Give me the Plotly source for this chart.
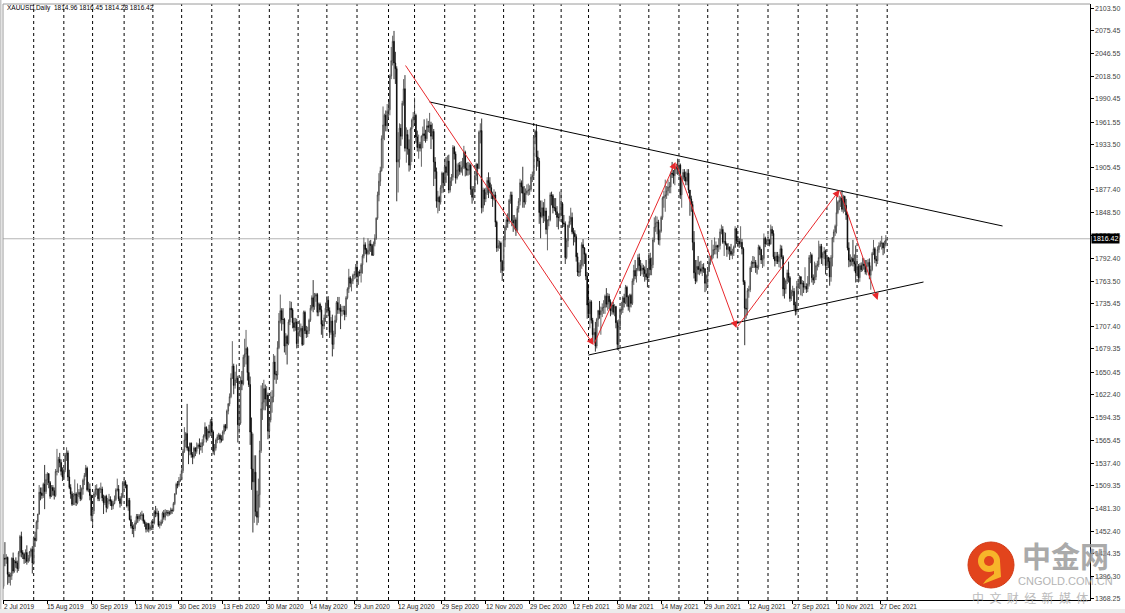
import plotly.graph_objects as go

# ---------------- data (XAUUSD daily) ----------------
opens = [
 1384,1419,1418,1420,1399,1396,1397,1419,1403,1415,1413,1406,1426,1446,1426,1424,1418,1426,1415,1419,1427,1430,
 1413,1444,1441,1464,1474,1501,1500,1497,1511,1502,1517,1524,1513,1496,1507,1503,1497,1527,1527,1542,1538,1527,
 1520,1529,1547,1550,1520,1507,1499,1486,1497,1499,1488,1498,1501,1493,1505,1516,1522,1531,1504,1505,1497,
 1472,1478,1499,1505,1505,1493,1505,1505,1494,1488,1496,1482,1490,1492,1490,1484,1487,1492,1504,1505,1493,1487,1496,
 1513,1514,1510,1484,1491,1467,1459,1456,1456,1463,1471,1468,1472,1472,1473,1465,1462,1455,1462,1455,1458,
 1464,1463,1477,1474,1475,1460,1461,1464,1475,1470,1476,1476,1475,1475,1479,1478,1487,1499,1511,1510,1515,
 1517,1528,1552,1566,1574,1556,1552,1562,1548,1545,1556,1552,1557,1560,1558,1558,1563,1571,1582,1567,1577,1575,
 1589,1576,1552,1556,1566,1570,1572,1567,1566,1576,1584,1581,1602,1611,1620,1643,1658,1634,1641,1643,
 1585,1587,1640,1636,1669,1673,1680,1650,1635,1576,1530,1514,1526,1477,1470,1498,1553,1605,1613,1630,1617,1622,
 1577,1591,1613,1620,1663,1648,1647,1681,1714,1727,1716,1716,1683,1695,1686,1713,1730,1728,1712,1706,1713,
 1686,1700,1702,1705,1685,1725,1702,1698,1702,1715,1730,1743,1732,1745,1747,1725,1735,1728,1710,1708,1718,
 1730,1740,1727,1700,1714,1685,1698,1715,1737,1728,1730,1726,1727,1727,1722,1743,1754,1768,1761,1764,1771,1772,
 1781,1769,1775,1774,1784,1795,1809,1803,1798,1802,1810,1808,1796,1810,1817,1842,1871,1888,1901,1941,1958,1970,1957,
 1975,1977,2019,2038,2062,2035,2028,1912,1915,1954,1944,1985,2003,1929,1946,1928,1908,1953,1964,
 1968,1970,1943,1930,1934,1929,1944,1947,1945,1941,1957,1955,1958,1944,1950,1912,1900,1863,1868,1862,1880,1898,
 1886,1906,1899,1913,1877,1888,1893,1930,1922,1892,1902,1908,1900,1905,1906,1924,1904,1902,1902,1908,1878,1868,
 1879,1895,1909,1904,1949,1951,1855,1877,1866,1874,1889,1886,1880,1872,1866,1871,1837,1805,1808,1811,1788,
 1777,1815,1831,1840,1838,1864,1871,1839,1836,1840,1827,1854,1863,1886,1881,1873,1862,1873,1876,1877,1878,1893,
 1895,1943,1950,1918,1913,1849,1844,1855,1845,1851,1828,1840,1840,1871,1870,1855,1855,1850,1843,1843,
 1848,1860,1836,1835,1793,1814,1833,1838,1843,1825,1823,1819,1794,1775,1775,1784,1809,1805,1797,1770,
 1734,1723,1738,1715,1697,1700,1683,1716,1727,1722,1727,1731,1731,1745,1735,1745,1738,1727,1734,1725,1732,1712,1685,
 1708,1728,1728,1743,1737,1756,1744,1732,1746,1736,1764,1777,1770,1778,1793,1783,1777,1780,1778,1773,1769,
 1768,1792,1778,1784,1815,1831,1836,1837,1815,1826,1843,1867,1869,1871,1876,1881,1881,1898,1897,1895,1903,1906,
 1903,1908,1871,1891,1899,1893,1888,1898,1877,1866,1859,1812,1774,1764,1782,1778,1779,1776,1781,1779,1761,
 1770,1776,1787,1791,1796,1803,1803,1808,1806,1808,1825,1828,1812,1813,1810,1803,1806,1801,1797,1799,1806,1829,
 1814,1813,1810,1812,1804,1763,1730,1729,1752,1753,1780,1787,1786,1787,1781,1781,1806,1803,1790,1792,1817,1810,
 1814,1815,1810,1828,1823,1794,1789,1795,1788,1794,1804,1794,1754,1754,1764,1774,1768,1742,1750,1751,1734,1726,
 1757,1761,1769,1760,1761,1756,1757,1754,1760,1793,1796,1768,1765,1769,1783,1784,1793,1807,1793,1798,1801,
 1783,1793,1788,1769,1793,1818,1825,1832,1849,1862,1864,1867,1853,1869,1858,1846,1805,1790,1788,1792,1788,1785,
 1774,1782,1768,1783,1778,1785,1783,1775,1783,1787,1771,1778,1798,1804,1791,1789,1803,1808,1811,1811,1805,1810,
 1814.96,
]
highs = [
 1424,1439,1424,1421,1402,1401,1420,1426,1417,1420,1416,1428,1448,1452,1429,1426,1430,1435,1423,1428,1432,1434,
 1446,1452,1466,1474,1510,1507,1507,1513,1535,1524,1526,1525,1515,1510,1510,1507,1530,1555,1545,1550,1542,1532,
 1531,1550,1557,1553,1529,1511,1502,1500,1517,1501,1512,1505,1510,1507,1518,1525,1535,1533,1514,1512,1498,
 1482,1502,1510,1511,1506,1507,1513,1508,1498,1497,1498,1494,1499,1496,1492,1490,1497,1506,1518,1510,1496,1500,1515,
 1517,1516,1511,1494,1494,1472,1464,1461,1466,1474,1474,1474,1476,1478,1475,1467,1464,1463,1463,1460,1466,
 1465,1479,1484,1481,1478,1465,1467,1477,1479,1480,1479,1479,1478,1482,1481,1489,1500,1513,1515,1520,1524,
 1531,1555,1582,1576,1611,1558,1563,1563,1551,1558,1557,1563,1562,1568,1563,1567,1573,1588,1583,1580,1585,1592,
 1592,1578,1561,1568,1573,1575,1574,1572,1578,1586,1586,1604,1612,1624,1649,1689,1661,1651,1660,1646,
 1610,1645,1652,1672,1692,1703,1682,1671,1645,1594,1574,1547,1547,1503,1518,1565,1634,1637,1641,1635,1633,1625,
 1594,1626,1628,1673,1671,1652,1689,1724,1747,1730,1730,1718,1699,1697,1716,1739,1738,1730,1718,1718,1717,
 1703,1715,1711,1708,1727,1727,1708,1707,1717,1734,1746,1765,1749,1749,1749,1737,1737,1733,1715,1722,1737,
 1745,1745,1731,1719,1722,1702,1721,1739,1744,1744,1735,1733,1733,1733,1745,1756,1779,1770,1767,1773,1776,1785,
 1789,1776,1778,1786,1797,1818,1812,1805,1817,1814,1815,1810,1813,1822,1843,1875,1898,1906,1945,1981,1972,1976,1984,
 1987,2021,2055,2069,2075,2049,2031,1949,1960,1959,1988,2015,2020,1955,1952,1940,1955,1966,1974,
 1992,1972,1951,1946,1937,1945,1956,1965,1952,1966,1963,1973,1962,1960,1953,1918,1905,1876,1870,1883,1900,1899,
 1916,1918,1920,1921,1893,1897,1933,1932,1925,1910,1911,1912,1913,1917,1932,1926,1911,1912,1911,1910,1882,1882,
 1897,1911,1910,1951,1960,1966,1880,1879,1880,1893,1899,1893,1884,1875,1878,1875,1839,1815,1814,1813,1790,
 1820,1833,1844,1848,1866,1875,1875,1846,1846,1843,1857,1867,1891,1889,1906,1882,1879,1884,1885,1883,1897,1900,
 1945,1952,1959,1926,1917,1864,1864,1862,1866,1855,1840,1845,1874,1875,1872,1867,1867,1857,1848,1875,
 1875,1862,1846,1838,1817,1834,1845,1855,1849,1830,1827,1822,1799,1787,1790,1812,1816,1806,1799,1775,
 1760,1741,1740,1718,1705,1713,1718,1728,1739,1732,1736,1740,1747,1755,1749,1748,1741,1737,1738,1735,1733,1715,1716,
 1731,1738,1745,1748,1759,1758,1746,1748,1748,1767,1784,1790,1780,1797,1798,1790,1786,1784,1782,1790,1780,
 1799,1799,1793,1818,1843,1845,1844,1840,1828,1845,1869,1876,1890,1882,1890,1887,1900,1912,1902,1907,1909,1916,
 1913,1910,1895,1903,1903,1900,1903,1903,1877,1870,1863,1826,1790,1790,1795,1788,1789,1785,1786,1780,1772,
 1778,1795,1795,1815,1809,1818,1813,1809,1817,1829,1834,1832,1825,1824,1811,1811,1807,1810,1804,1808,1832,1830,
 1820,1817,1832,1816,1806,1765,1742,1755,1758,1782,1789,1795,1794,1790,1784,1809,1808,1804,1796,1823,1819,1816,
 1822,1816,1834,1832,1827,1800,1800,1800,1797,1809,1808,1796,1768,1766,1778,1788,1770,1753,1758,1755,1738,1764,
 1763,1771,1770,1765,1764,1781,1761,1770,1796,1800,1798,1772,1788,1786,1789,1814,1810,1810,1800,1806,1803,
 1796,1794,1793,1796,1818,1828,1834,1869,1864,1870,1869,1877,1871,1870,1866,1849,1812,1797,1794,1815,1797,1808,
 1792,1785,1786,1787,1793,1792,1790,1790,1791,1792,1783,1800,1815,1806,1795,1807,1812,1814,1820,1812,1814,1821,
 1816.45,
]
lows = [
 1381,1409,1412,1386,1388,1385,1392,1400,1401,1407,1401,1403,1421,1420,1418,1412,1413,1411,1413,1415,1421,1400,
 1411,1433,1440,1455,1473,1491,1493,1494,1480,1499,1510,1506,1493,1495,1497,1492,1495,1522,1525,1532,1522,1515,
 1518,1526,1540,1515,1505,1493,1484,1485,1485,1484,1486,1495,1490,1491,1498,1510,1520,1502,1501,1491,1465,
 1459,1474,1495,1497,1490,1490,1500,1490,1474,1485,1476,1480,1486,1484,1479,1480,1486,1490,1502,1490,1482,1484,1494,
 1504,1506,1482,1478,1466,1456,1449,1445,1453,1461,1463,1465,1467,1466,1462,1458,1451,1452,1451,1453,1454,
 1454,1461,1470,1471,1458,1456,1459,1462,1467,1466,1472,1471,1472,1473,1474,1477,1485,1498,1506,1508,1514,
 1516,1525,1550,1557,1553,1536,1547,1544,1536,1543,1546,1549,1555,1548,1553,1550,1559,1569,1563,1565,1569,1571,
 1572,1548,1547,1553,1562,1566,1562,1563,1565,1573,1577,1579,1598,1608,1618,1642,1623,1630,1637,1563,
 1574,1585,1628,1634,1657,1660,1640,1632,1560,1504,1451,1463,1471,1460,1463,1482,1550,1591,1603,1603,1608,1567,
 1568,1588,1600,1613,1641,1636,1641,1679,1711,1702,1710,1675,1672,1660,1684,1709,1718,1705,1701,1702,1680,
 1683,1695,1694,1683,1684,1698,1693,1694,1698,1713,1727,1725,1728,1738,1720,1720,1725,1697,1693,1704,1713,
 1724,1720,1693,1697,1670,1679,1694,1712,1723,1723,1704,1720,1722,1715,1719,1741,1749,1756,1751,1760,1766,1767,
 1757,1759,1770,1762,1773,1792,1797,1787,1796,1797,1800,1795,1795,1807,1815,1840,1863,1882,1900,1904,1939,1950,1950,
 1965,1970,2015,2032,2015,2009,1863,1874,1905,1932,1940,1982,1925,1911,1921,1900,1902,1912,1955,
 1960,1936,1925,1916,1925,1906,1929,1938,1936,1938,1949,1948,1928,1940,1882,1891,1855,1848,1851,1859,1873,1874,
 1882,1886,1895,1873,1874,1882,1889,1915,1885,1890,1894,1896,1898,1895,1903,1894,1895,1895,1896,1871,1860,1864,
 1874,1889,1884,1903,1935,1848,1850,1858,1862,1871,1867,1873,1866,1856,1864,1831,1800,1801,1804,1774,1764,
 1776,1806,1827,1830,1835,1860,1832,1825,1828,1820,1824,1849,1858,1873,1855,1855,1859,1871,1870,1871,1875,1887,
 1893,1934,1901,1906,1835,1817,1842,1836,1838,1822,1802,1832,1838,1858,1848,1851,1846,1831,1828,1838,
 1846,1830,1831,1785,1791,1806,1830,1834,1822,1808,1812,1788,1770,1769,1770,1779,1782,1785,1765,1717,
 1718,1705,1711,1688,1687,1676,1680,1707,1717,1697,1719,1723,1723,1731,1727,1729,1720,1722,1722,1720,1705,1678,1677,
 1705,1722,1724,1731,1735,1732,1727,1725,1731,1734,1759,1766,1762,1776,1776,1770,1772,1769,1763,1765,1756,
 1767,1771,1771,1780,1812,1825,1822,1809,1808,1824,1840,1855,1850,1866,1870,1873,1873,1892,1885,1883,1897,1896,
 1894,1866,1855,1889,1888,1883,1883,1873,1845,1850,1802,1767,1760,1762,1772,1771,1773,1770,1774,1750,1752,
 1757,1775,1784,1790,1792,1797,1797,1792,1800,1803,1822,1810,1795,1808,1794,1797,1790,1795,1791,1795,1805,1810,
 1806,1805,1806,1797,1759,1684,1717,1721,1743,1750,1775,1780,1780,1774,1772,1778,1796,1785,1780,1782,1806,1809,
 1809,1807,1809,1820,1791,1782,1785,1785,1781,1780,1791,1745,1742,1748,1760,1762,1738,1739,1745,1728,1721,1722,
 1747,1754,1746,1745,1749,1753,1749,1750,1757,1786,1762,1759,1761,1765,1777,1781,1791,1785,1783,1791,1772,
 1780,1780,1758,1763,1782,1812,1820,1823,1847,1852,1856,1850,1848,1850,1840,1802,1781,1782,1783,1782,1776,1762,
 1770,1762,1763,1775,1776,1778,1772,1771,1781,1766,1753,1776,1796,1786,1782,1785,1799,1806,1803,1796,1798,1807,
 1814.28,
]
closes = [
 1419,1418,1420,1399,1396,1397,1419,1403,1415,1413,1406,1426,1446,1426,1424,1418,1426,1415,1419,1427,1430,1413,
 1444,1441,1464,1474,1501,1500,1497,1511,1502,1517,1524,1513,1496,1507,1503,1497,1527,1527,1542,1538,1527,1520,
 1529,1547,1550,1520,1507,1499,1486,1497,1499,1488,1498,1501,1493,1505,1516,1522,1531,1504,1505,1497,1472,
 1478,1499,1505,1505,1493,1505,1505,1494,1488,1496,1482,1490,1492,1490,1484,1487,1492,1504,1505,1493,1487,1496,1513,
 1514,1510,1484,1491,1467,1459,1456,1456,1463,1471,1468,1472,1472,1473,1465,1462,1455,1462,1455,1458,1464,
 1463,1477,1474,1475,1460,1461,1464,1475,1470,1476,1476,1475,1475,1479,1478,1487,1499,1511,1510,1515,1517,
 1528,1552,1566,1574,1556,1552,1562,1548,1545,1556,1552,1557,1560,1558,1558,1563,1571,1582,1567,1577,1575,1589,
 1576,1552,1556,1566,1570,1572,1567,1566,1576,1584,1581,1602,1611,1620,1643,1658,1634,1641,1643,1585,
 1587,1640,1636,1669,1673,1680,1650,1635,1576,1530,1514,1526,1477,1470,1498,1553,1605,1613,1630,1617,1622,1577,
 1591,1613,1620,1663,1648,1647,1681,1714,1727,1716,1716,1683,1695,1686,1713,1730,1728,1712,1706,1713,1686,
 1700,1702,1705,1685,1725,1702,1698,1702,1715,1730,1743,1732,1745,1747,1725,1735,1728,1710,1708,1718,1730,
 1740,1727,1700,1714,1685,1698,1715,1737,1728,1730,1726,1727,1727,1722,1743,1754,1768,1761,1764,1771,1772,1781,
 1769,1775,1774,1784,1795,1809,1803,1798,1802,1810,1808,1796,1810,1817,1842,1871,1888,1901,1941,1958,1970,1957,1975,
 1977,2019,2038,2062,2035,2028,1912,1915,1954,1944,1985,2003,1929,1946,1928,1908,1953,1964,1968,
 1970,1943,1930,1934,1929,1944,1947,1945,1941,1957,1955,1958,1944,1950,1912,1900,1863,1868,1862,1880,1898,1886,
 1906,1899,1913,1877,1888,1893,1930,1922,1892,1902,1908,1900,1905,1906,1924,1904,1902,1902,1908,1878,1868,1879,
 1895,1909,1904,1949,1951,1855,1877,1866,1874,1889,1886,1880,1872,1866,1871,1837,1805,1808,1811,1788,1777,
 1815,1831,1840,1838,1864,1871,1839,1836,1840,1827,1854,1863,1886,1881,1873,1862,1873,1876,1877,1878,1893,1895,
 1943,1950,1918,1913,1849,1844,1855,1845,1851,1828,1840,1840,1871,1870,1855,1855,1850,1843,1843,1848,
 1860,1836,1835,1793,1814,1833,1838,1843,1825,1823,1819,1794,1775,1775,1784,1809,1805,1797,1770,1734,
 1723,1738,1715,1697,1700,1683,1716,1727,1722,1727,1731,1731,1745,1735,1745,1738,1727,1734,1725,1732,1712,1685,1708,
 1728,1728,1743,1737,1756,1744,1732,1746,1736,1764,1777,1770,1778,1793,1783,1777,1780,1778,1773,1769,1768,
 1792,1778,1784,1815,1831,1836,1837,1815,1826,1843,1867,1869,1871,1876,1881,1881,1898,1897,1895,1903,1906,1903,
 1908,1871,1891,1899,1893,1888,1898,1877,1866,1859,1812,1774,1764,1782,1778,1779,1776,1781,1779,1761,1770,
 1776,1787,1791,1796,1803,1803,1808,1806,1808,1825,1828,1812,1813,1810,1803,1806,1801,1797,1799,1806,1829,1814,
 1813,1810,1812,1804,1763,1730,1729,1752,1753,1780,1787,1786,1787,1781,1781,1806,1803,1790,1792,1817,1810,1814,
 1815,1810,1828,1823,1794,1789,1795,1788,1794,1804,1794,1754,1754,1764,1774,1768,1742,1750,1751,1734,1726,1757,
 1761,1769,1760,1761,1756,1757,1754,1760,1793,1796,1768,1765,1769,1783,1784,1793,1807,1793,1798,1801,1783,
 1793,1788,1769,1793,1818,1825,1832,1849,1862,1864,1867,1853,1869,1858,1846,1805,1790,1788,1792,1788,1785,1774,
 1782,1768,1783,1778,1785,1783,1775,1783,1787,1771,1778,1798,1804,1791,1789,1803,1808,1811,1811,1805,1810,1815,
 1816.42,
]

# first bar index of each month (Aug 2019 ... Jan 2022) -> vertical grid
month_starts = [22, 44, 65, 88, 109, 130, 152, 172, 194, 215, 236, 258, 281, 300, 322,
                344, 365, 387, 407, 427, 450, 471, 493, 514, 536, 558, 580, 601, 623, 645]

date_labels = ["2 Jul 2019", "15 Aug 2019", "30 Sep 2019", "13 Nov 2019", "30 Dec 2019",
               "13 Feb 2020", "30 Mar 2020", "14 May 2020", "29 Jun 2020", "12 Aug 2020",
               "29 Sep 2020", "12 Nov 2020", "29 Dec 2020", "12 Feb 2021", "30 Mar 2021",
               "14 May 2021", "29 Jun 2021", "12 Aug 2021", "27 Sep 2021", "10 Nov 2021",
               "27 Dec 2021"]
bars_per_label = 32

price_ticks = [2103.50, 2075.45, 2046.55, 2018.50, 1990.45, 1961.55, 1933.50, 1905.45,
               1877.40, 1848.50, 1820.45, 1792.40, 1763.50, 1735.45, 1707.40, 1679.35,
               1650.45, 1622.40, 1594.35, 1565.45, 1537.40, 1509.35, 1481.30, 1452.40,
               1424.35, 1396.30, 1368.25]

last_price = 1816.42

# hand-drawn analysis objects (bar index, price)
upper_line_idx = [310.9, 729.2]
upper_line_px = [1986.6, 1832.3]
lower_line_idx = [427.0, 671.5]
lower_line_px = [1671.8, 1762.6]
zigzag_idx = [292.7, 430.7, 490.5, 535.0, 610.2, 638.0]
zigzag_px = [2033.8, 1684.2, 1911.9, 1705.4, 1877.1, 1740.2]

# ---------------- figure ----------------
W, H = 1125, 613
ML, MR, MT, MB = 3, 35, 4, 13
PW, PH = W - ML - MR, H - MT - MB
FONT = "Liberation Sans, Arial, sans-serif"


def pxx(px):
    return (px - ML) / PW


def pxy(py):
    return (H - MB - py) / PH


n = len(closes)
xs = list(range(n))

fig = go.Figure()
fig.add_trace(go.Candlestick(
    x=xs, open=opens, high=highs, low=lows, close=closes,
    increasing=dict(line=dict(color="#3c3c3c", width=0.8), fillcolor="#ffffff"),
    decreasing=dict(line=dict(color="#000000", width=0.8), fillcolor="#000000"),
    whiskerwidth=0, hoverinfo="skip", showlegend=False,
))

shapes = []
for m in month_starts:
    shapes.append(dict(type="line", xref="x", yref="paper", x0=m, x1=m, y0=0, y1=1,
                       line=dict(color="#000000", width=1, dash="3px,3px"), layer="below"))
shapes.append(dict(type="line", xref="paper", yref="y", x0=0, x1=1, y0=last_price, y1=last_price,
                   line=dict(color="#b4b4b4", width=1), layer="below"))
shapes.append(dict(type="line", xref="x", yref="y", x0=upper_line_idx[0], x1=upper_line_idx[1],
                   y0=upper_line_px[0], y1=upper_line_px[1], line=dict(color="#000000", width=1)))
shapes.append(dict(type="line", xref="x", yref="y", x0=lower_line_idx[0], x1=lower_line_idx[1],
                   y0=lower_line_px[0], y1=lower_line_px[1], line=dict(color="#000000", width=1)))
# frame: left and top gray borders, bottom strip
shapes.append(dict(type="line", xref="paper", yref="paper", x0=0, x1=0, y0=0, y1=1,
                   line=dict(color="#9a9a9a", width=1)))
shapes.append(dict(type="line", xref="paper", yref="paper", x0=0, x1=1, y0=1, y1=1,
                   line=dict(color="#9a9a9a", width=1)))
shapes.append(dict(type="rect", xref="paper", yref="paper", x0=pxx(0), x1=pxx(1.5), y0=pxy(613), y1=pxy(0),
                   fillcolor="#c8c8c8", line=dict(width=0)))
shapes.append(dict(type="rect", xref="paper", yref="paper", x0=pxx(0), x1=pxx(W), y0=pxy(613), y1=pxy(609),
                   fillcolor="#ececec", line=dict(width=0)))

# watermark logo (circle with swirl)
cx, cy, r = 991, 565, 23
shapes.append(dict(type="circle", xref="paper", yref="paper",
                   x0=pxx(cx - r), x1=pxx(cx + r), y0=pxy(cy + r), y1=pxy(cy - r),
                   fillcolor="#e2441c", line=dict(color="#d23a16", width=1)))
shapes.append(dict(type="circle", xref="paper", yref="paper",
                   x0=pxx(cx - 13), x1=pxx(cx + 9), y0=pxy(cy + 7), y1=pxy(cy - 15),
                   fillcolor="#f7b52a", line=dict(width=0)))
shapes.append(dict(type="circle", xref="paper", yref="paper",
                   x0=pxx(cx - 7), x1=pxx(cx + 3), y0=pxy(cy + 1), y1=pxy(cy - 9),
                   fillcolor="#e2441c", line=dict(width=0)))
tail = [(cx + 9, cy - 4), (cx + 10, cy + 12), (cx - 8, cy + 19), (cx - 5, cy + 15), (cx + 3, cy + 9), (cx + 3, cy - 4)]
path = "M " + " L ".join(f"{pxx(a):.5f},{pxy(b):.5f}" for a, b in tail) + " Z"
shapes.append(dict(type="path", xref="paper", yref="paper", path=path,
                   fillcolor="#f7b52a", line=dict(width=0)))

annotations = []
# zig-zag arrows
for i in range(len(zigzag_idx) - 1):
    annotations.append(dict(x=zigzag_idx[i + 1], y=zigzag_px[i + 1], ax=zigzag_idx[i], ay=zigzag_px[i],
                            xref="x", yref="y", axref="x", ayref="y", text="", showarrow=True,
                            arrowhead=2, arrowsize=1.4, arrowwidth=1, arrowcolor="#e8282c", standoff=0))
# date labels (left-aligned at the tick, like MT4)
for i, lab in enumerate(date_labels):
    annotations.append(dict(x=i * bars_per_label, y=0, xref="x", yref="paper", text=lab,
                            showarrow=False, xanchor="left", yanchor="top", xshift=-2, yshift=-1,
                            font=dict(family=FONT, size=6.5, color="#222222")))
# price labels on the right axis
for v in price_ticks:
    annotations.append(dict(x=1, y=v, xref="paper", yref="y", text=f"{v:.2f}",
                            showarrow=False, xanchor="left", yanchor="middle", xshift=3,
                            font=dict(family=FONT, size=7, color="#444444")))
# header
annotations.append(dict(x=pxx(5), y=pxy(8), xref="paper", yref="paper",
                        text="XAUUSD,Daily\u00a0\u00a01814.96\u00a01816.45\u00a01814.28\u00a01816.42",
                        showarrow=False, xanchor="left", yanchor="middle",
                        font=dict(family=FONT, size=6.5, color="#000000")))
# current price box
annotations.append(dict(x=1, y=last_price, xref="paper", yref="y", text=f"{last_price:.2f}",
                        showarrow=False, xanchor="left", yanchor="middle", xshift=1,
                        bgcolor="#000000", borderpad=1,
                        font=dict(family=FONT, size=7, color="#ffffff")))
# watermark text
annotations.append(dict(x=pxx(1065), y=pxy(555), xref="paper", yref="paper", text="<b>中金网</b>",
                        showarrow=False, xanchor="center", yanchor="middle", opacity=0.85,
                        font=dict(family="Noto Sans CJK SC", size=29, color="#9c9c9c")))
annotations.append(dict(x=pxx(1065), y=pxy(581), xref="paper", yref="paper", text="CNGOLD.COM.CN",
                        showarrow=False, xanchor="center", yanchor="middle", opacity=0.85,
                        font=dict(family=FONT, size=11, color="#a8a8a8")))
annotations.append(dict(x=pxx(1030), y=pxy(597), xref="paper", yref="paper",
                        text="中\u00a0\u00a0文\u00a0\u00a0财\u00a0\u00a0经\u00a0\u00a0新\u00a0\u00a0媒\u00a0\u00a0体",
                        showarrow=False, xanchor="center", yanchor="middle", opacity=0.85,
                        font=dict(family="Noto Sans CJK SC", size=12, color="#b0b0b0")))

# axis ranges from pixel mapping
px_per_bar = 1.37
usd_per_px = 1.2441
x_range = [-0.4, -0.4 + PW / px_per_bar]
y_top = 2103.5 + (8 - MT) * usd_per_px
y_bot = y_top - PH * usd_per_px

fig.update_layout(
    width=W, height=H, margin=dict(l=ML, r=MR, t=MT, b=MB, autoexpand=False),
    paper_bgcolor="#ffffff", plot_bgcolor="#ffffff",
    shapes=shapes, annotations=annotations, showlegend=False,
    xaxis=dict(range=x_range, showgrid=False, zeroline=False, showline=True, linecolor="#000000",
               linewidth=1, rangeslider=dict(visible=False),
               tickvals=[i * bars_per_label for i in range(len(date_labels))],
               ticktext=["" for _ in date_labels], ticks="outside", ticklen=3, tickcolor="#000000",
               fixedrange=True),
    yaxis=dict(range=[y_bot, y_top], side="right", showgrid=False, zeroline=False, showline=True,
               linecolor="#000000", linewidth=1, tickvals=price_ticks,
               ticktext=["" for _ in price_ticks], ticks="outside", ticklen=3,
               tickcolor="#000000", fixedrange=True),
)

fig.write_html("out.html", config={"displayModeBar": False},
               post_script="document.body.style.margin='0';document.body.style.overflow='hidden';")
